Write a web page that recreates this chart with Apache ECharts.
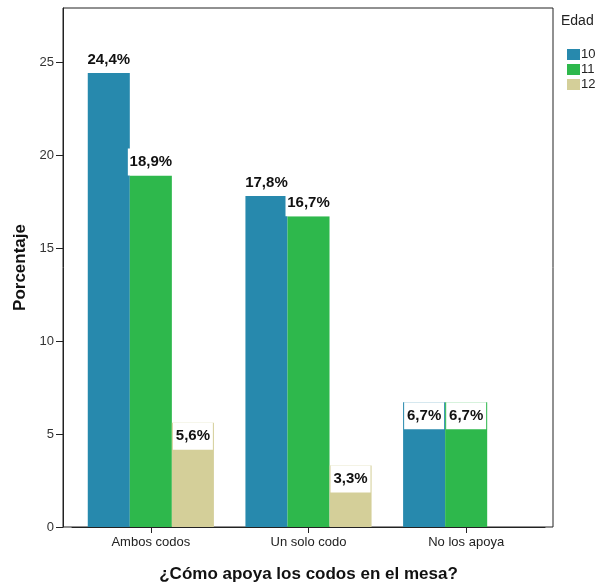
<!DOCTYPE html>
<html>
<head>
<meta charset="utf-8">
<script src="https://cdn.jsdelivr.net/npm/echarts@6/dist/echarts.min.js"></script>
<style>html,body{margin:0;padding:0;background:#fff}#c{width:595px;height:586px}</style>
</head>
<body>
<div id="c"></div>
<script>
const categories = ['Ambos codos', 'Un solo codo', 'No los apoya'];
const seriesNames = ['10', '11', '12'];
const edad10 = [24.4, 17.8, 6.7];
const edad11 = [18.9, 16.7, 6.7];
const edad12 = [5.6, 3.3, null];
const yTicks = [0, 5, 10, 15, 20, 25];
const colors = ['#2789AD', '#2EB84C', '#D4CF99'];
// labels drawn inside the top of the bar (short bars) vs above it
const insideFlags = [[false, false, true], [false, false, true], [true, true, null]];

function fmt(v) { return v.toFixed(1).replace('.', ',') + '%'; }

function makeData(vals, si) {
  return vals.map((v, ci) => {
    if (v === null) return null;
    const inside = insideFlags[ci][si];
    return {
      value: v,
      label: inside ? {
        position: 'insideTop', distance: 0, width: 40, height: 27,
        backgroundColor: '#fff', align: 'center', lineHeight: 27
      } : {
        position: 'top', distance: 0, width: 46, height: 27,
        backgroundColor: '#fff', align: 'center', lineHeight: 27
      }
    };
  });
}

const chart = echarts.init(document.getElementById('c'), null, {renderer: 'canvas'});
const allVals = [edad10, edad11, edad12];
const series = allVals.map((vals, si) => ({
  name: seriesNames[si],
  type: 'bar',
  xAxisIndex: 1, yAxisIndex: 1,
  barGap: '0%', barCategoryGap: '20%',
  itemStyle: {color: colors[si]},
  label: {
    show: true, formatter: p => fmt(p.value),
    fontFamily: 'Liberation Sans', fontWeight: 'bold', fontSize: 15, color: '#111'
  },
  data: makeData(vals, si)
}));

chart.setOption({
  animation: false,
  textStyle: {fontFamily: 'Liberation Sans'},
  grid: [
    {left: 63, right: 42, top: 8, bottom: 59, show: true, borderColor: '#222', borderWidth: 1,
     backgroundColor: 'transparent', outerBoundsMode: 'none', containLabel: false},
    {left: 72, right: 50, top: 8, bottom: 59, outerBoundsMode: 'none', containLabel: false}
  ],
  legend: {
    data: seriesNames, orient: 'vertical', left: 562, top: 43, itemWidth: 13, itemHeight: 11, itemGap: 2,
    icon: 'rect', textStyle: {fontSize: 13, color: '#222', padding: [0, 0, 0, -4]}
  },
  graphic: [{type: 'text', left: 561, top: 14, style: {text: 'Edad', fontSize: 14, fill: '#222', fontFamily: 'Liberation Sans'}}],
  xAxis: [
    {gridIndex: 0, type: 'value', show: false, min: 0, max: 1},
    {gridIndex: 1, type: 'category', data: categories,
     axisLine: {show: true, lineStyle: {color: '#222'}},
     axisTick: {show: true, alignWithLabel: true, length: 6, lineStyle: {color: '#222'}},
     axisLabel: {fontSize: 13, color: '#222', margin: 9},
     name: '¿Cómo apoya los codos en el mesa?', nameLocation: 'middle', nameGap: 39,
     nameTextStyle: {fontSize: 17, fontWeight: 'bold', color: '#111'}}
  ],
  yAxis: [
    {gridIndex: 0, type: 'value', min: 0, max: 27.9, interval: 5,
     axisLine: {show: true, lineStyle: {color: '#222'}},
     axisTick: {show: true, length: 7, lineStyle: {color: '#222'}, customValues: yTicks},
     axisLabel: {fontSize: 13, color: '#333', margin: 9, customValues: yTicks},
     splitLine: {show: false},
     name: 'Porcentaje', nameLocation: 'middle', nameGap: 34,
     nameTextStyle: {fontSize: 17, fontWeight: 'bold', color: '#111'}},
    {gridIndex: 1, type: 'value', min: 0, max: 27.9, interval: 5, show: false, splitLine: {show: false}}
  ],
  series: series
});
</script>
</body>
</html>
